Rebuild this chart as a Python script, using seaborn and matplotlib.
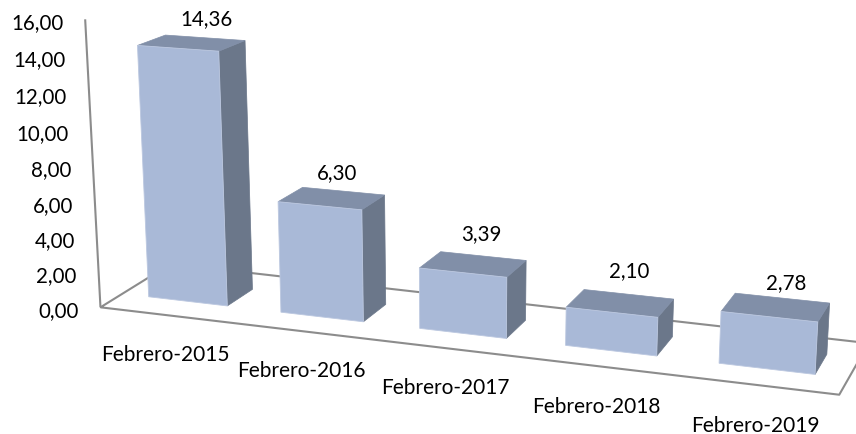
import matplotlib
matplotlib.use('Agg')
import matplotlib.pyplot as plt
from matplotlib.transforms import Transform, IdentityTransform
import seaborn as sns
import numpy as np
import pandas as pd

# datos del grafico
categorias = ['Febrero-2015', 'Febrero-2016', 'Febrero-2017', 'Febrero-2018', 'Febrero-2019']
valores = [14.36, 6.30, 3.39, 2.10, 2.78]
ticks_y = [0, 2, 4, 6, 8, 10, 12, 14, 16]

W, H = 856, 434
COL_FRENTE = '#A9B9D7'
COL_TECHO = '#818FA8'
COL_LADO = '#6B778A'
COL_EJE = '#8C8C8C'
ANCHO = 0.6
D0, D1 = 0.3, 0.7  # fondo de las barras
# ajuste fino de las etiquetas de valor, en pixeles
AJUSTE_X = [2, -6, -2, 1, 4]
AJUSTE_Y = [2, 3, -1, -2, 6]


def camara(ref_3d, ref_px):
    # ajuste de la perspectiva: (categoria, fondo, valor) -> pixel de la imagen
    filas, lado = [], []
    for (X, D, V), (u, v) in zip(ref_3d, ref_px):
        filas.append([X, D, V, 1, 0, 0, 0, 0, -u * X, -u * D, -u * V])
        filas.append([0, 0, 0, 0, X, D, V, 1, -v * X, -v * D, -v * V])
        lado += [u, v]
    p = np.linalg.lstsq(np.array(filas, float), np.array(lado, float), rcond=None)[0]
    return np.append(p, 1).reshape(3, 4)


# marco: esquinas del suelo y del eje vertical
P_MARCO = camara(
    [(0, 0, 0), (5, 0, 0), (0, 1, 0), (5, 1, 0), (0, 0, 16), (5, 0, 16), (0, 1, 16)],
    [(100, 306), (840, 394.5), (171, 265), (868, 343.5), (85, 21), (853, 90), (159, -10)],
)

# barras: esquinas medidas de cada caja (frente arriba, frente abajo, fondo arriba, fondo abajo)
esquinas = [
    [(138, 45), (217, 51), (150, 297), (225, 305), (168, 35), (243, 41), (251, 289)],
    [(279, 202), (359, 209), (283, 313), (362, 321), (305, 187), (383, 195), (384, 304)],
    [(421, 270), (505, 277), (421, 329), (505, 338), (443, 252), (524, 260), (524, 320)],
    [(568, 308), (656, 316), (568, 346), (656, 355), (587, 290), (672, 299), (672, 339)],
    [(724, 312), (816, 322), (722, 364), (813, 374), (740, 294), (828, 303), (826, 352)],
]
ref_3d, ref_px = [], []
for i, px in enumerate(esquinas):
    a, b = i + 0.5 - ANCHO / 2, i + 0.5 + ANCHO / 2
    v = valores[i]
    ref_3d += [(a, D0, v), (b, D0, v), (a, D0, 0), (b, D0, 0), (a, D1, v), (b, D1, v), (b, D1, 0)]
    ref_px += px
P_BARRAS = camara(ref_3d, ref_px)


def proyectar(X, D, V, P=P_BARRAS):
    X, D, V = np.broadcast_arrays(X, D, V)
    h = P @ np.vstack([X.ravel(), D.ravel(), V.ravel(), np.ones(X.size)])
    return np.column_stack([h[0] / h[2], H - h[1] / h[2]])


class PlanoFrontal(Transform):
    input_dims = 2
    output_dims = 2

    def transform_non_affine(self, values):
        values = np.asarray(values)
        return proyectar(values[:, 0] + 0.5, D0, values[:, 1])


sns.set_theme(style='white')
plt.rcParams['font.family'] = ['Lato', 'DejaVu Sans']
df = pd.DataFrame({'Mes': categorias, 'Valor': valores})

fig = plt.figure(figsize=(W / 100, H / 100), dpi=100)
ax = fig.add_axes([0, 0, 1, 1])
sns.barplot(data=df, x='Mes', y='Valor', width=ANCHO, color=COL_FRENTE, saturation=1,
            edgecolor='#BCC8E0', linewidth=0.6, ax=ax)
ax.axis('off')
pix = IdentityTransform()


def cara(X, D, V, color, z):
    ax.fill(*proyectar(X, D, V).T, color=color, lw=0.5, transform=pix, clip_on=False, zorder=z)


def linea(X, D, V):
    ax.plot(*proyectar(X, D, V, P_MARCO).T, color=COL_EJE, lw=1.5, transform=pix, clip_on=False, zorder=1,
            solid_capstyle='butt')


# ejes y suelo
linea([0, 0], [0, 0], [0, 16])
linea([0, 5, 5, 0, 0], [0, 0, 1, 1, 0], [0, 0, 0, 0, 0])

for t in ticks_y:
    xt, yt = proyectar(0, 0, t, P_MARCO)[0]
    ax.text(xt - 22, yt - 4, f'{t:.2f}'.replace('.', ','), ha='right', va='center', fontsize=14.8,
            color='black', transform=pix)

for i, barra in enumerate(ax.patches):
    barra.set_transform(PlanoFrontal())
    barra.set_clip_on(False)
    barra.set_zorder(4)
    x0 = barra.get_x() + 0.5
    x1 = x0 + barra.get_width()
    v = barra.get_height()
    cara([x1, x1, x1, x1], [D0, D1, D1, D0], [0, 0, v, v], COL_LADO, 3)
    cara([x0, x1, x1, x0], [D0, D0, D1, D1], [v, v, v, v], COL_TECHO, 3)

    xv, yv = proyectar((x0 + x1) / 2, D1, v)[0]
    ax.text(xv + AJUSTE_X[i], yv + 21 - AJUSTE_Y[i], f'{valores[i]:.2f}'.replace('.', ','), ha='center',
            va='center', fontsize=14.8, color='black', transform=pix)
    xc, yc = proyectar((x0 + x1) / 2, D0 - 0.33, 0)[0]
    ax.text(xc, yc - 39.5, categorias[i], ha='center', va='center', fontsize=15, color='black',
            transform=pix)

fig.savefig('out.png', dpi=100)
